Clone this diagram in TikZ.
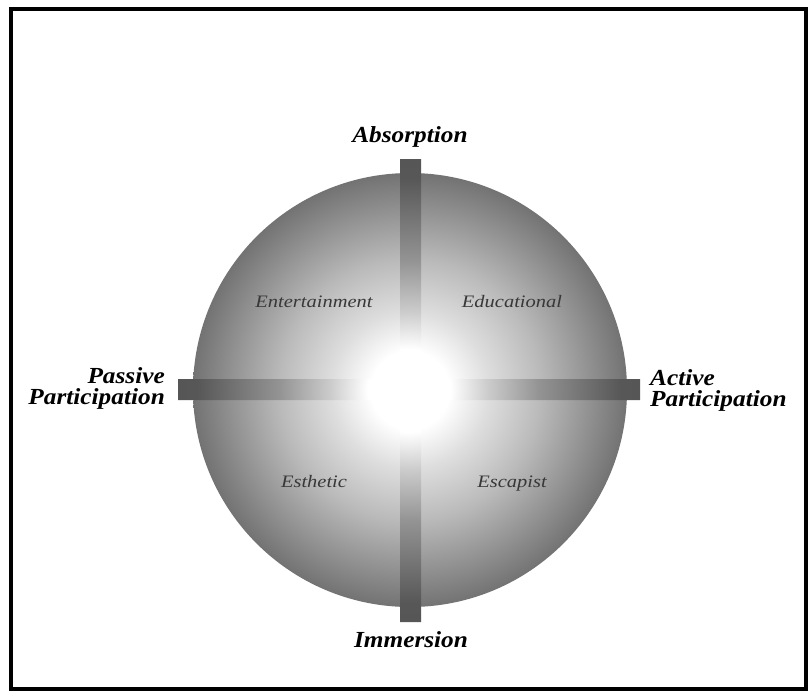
\documentclass[tikz,border=0pt]{standalone}
\usepackage{fontspec}
\setmainfont{Liberation Serif}
\usepackage{graphicx}
\pgfdeclareradialshading{disc}{\pgfpoint{0bp}{0bp}}{rgb(0bp)=(1,1,1); rgb(4.5bp)=(1,1,1); rgb(9bp)=(0.87,0.87,0.87); rgb(15bp)=(0.73,0.73,0.73); rgb(25bp)=(0.45,0.45,0.45); rgb(50bp)=(0.45,0.45,0.45)}
\pgfdeclareradialshading{barsh}{\pgfpoint{0bp}{0bp}}{rgb(0bp)=(1,1,1); rgb(4.5bp)=(1,1,1); rgb(8.5bp)=(0.8,0.8,0.8); rgb(14bp)=(0.58,0.58,0.58); rgb(23bp)=(0.34,0.34,0.34); rgb(50bp)=(0.32,0.32,0.32)}
\newcommand\sxa[1]{\scalebox{1.1}[1]{#1}}
\newcommand\sxq[1]{\scalebox{1.17}[1]{#1}}
\begin{document}
\begin{tikzpicture}[x=1pt,y=-1pt,
  axislbl/.style={font=\fontsize{23}{23}\selectfont\bfseries\itshape, inner sep=0pt},
  quadlbl/.style={font=\fontsize{17.5}{20}\selectfont\itshape, text=black!78, inner sep=0pt, anchor=base}]
\useasboundingbox (0,0) rectangle (808,691);
\fill[white] (0,0) rectangle (808,691);
\draw[line width=4pt] (11,8.5) rectangle (806,689);
\shade[shading=disc] (410,390) circle[radius=217pt];
\shade[shading=barsh] (178,379) rectangle (640,400) (400,159) rectangle (421,622);
\node[axislbl, anchor=base] (absorption) at (410,142) {\sxa{Absorption}};
\node[axislbl, anchor=base] (immersion) at (411,647) {\sxa{Immersion}};
\node[axislbl, anchor=base east, align=right] (passive) at (165,404) {\sxa{Passive}\\[-2pt]\sxa{Participation}};
\node[axislbl, anchor=base west, align=left] (active) at (650,406) {\sxa{Active}\\[-2pt]\sxa{Participation}};
\node[quadlbl] (entertainment) at (314,307) {\sxq{Entertainment}};
\node[quadlbl] (educational) at (512,307) {\sxq{Educational}};
\node[quadlbl] (esthetic) at (314,487) {\sxq{Esthetic}};
\node[quadlbl] (escapist) at (512,487) {\sxq{Escapist}};
\end{tikzpicture}
\end{document}
